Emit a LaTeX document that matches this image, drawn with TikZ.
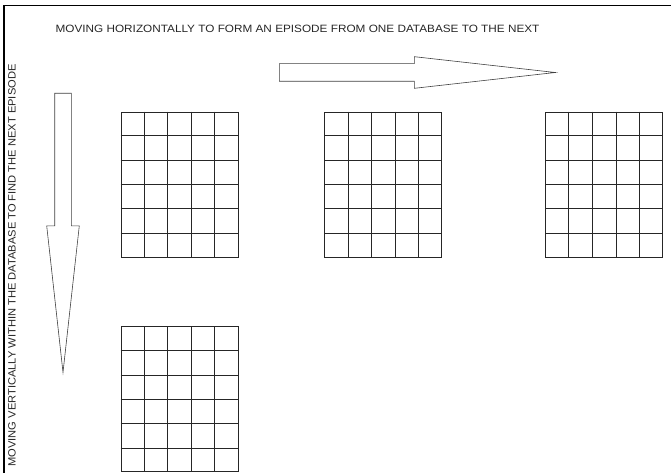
\documentclass[tikz,border=0pt]{standalone}
\usepackage{fontspec}
\setmainfont{Liberation Sans}
\usepackage{tikz}
\usetikzlibrary{shapes.arrows, positioning, calc}

\begin{document}
\begin{tikzpicture}[x=1pt, y=-1pt,
    db/.style={rectangle, draw=black!85, line width=0.9pt, minimum width=117pt,
               minimum height=145pt, inner sep=0pt},
    cell/.style={draw=black!85, line width=0.9pt},
    bigarrow/.style={single arrow, draw=black!75, line width=0.6pt, fill=white,
                     single arrow head indent=0pt},
    lbl/.style={font=\fontsize{10.6}{12}\selectfont, inner sep=0pt, text=black!85}]
  \useasboundingbox (0,0) rectangle (671,473);
  \draw[line width=1.5pt] (4,473) -- (4,5.5) -- (671,5.5);

  \node[lbl] (title) at (297.5,28.5) {\scalebox{1.11}[1]{MOVING HORIZONTALLY TO FORM AN EPISODE FROM ONE DATABASE TO THE NEXT}};
  \node[lbl, rotate=90] (side) at (12,265.5) {\scalebox{1.05}[1]{MOVING VERTICALLY WITHIN THE DATABASE TO FIND THE NEXT EPISODE}};

  \node[bigarrow, inner xsep=0pt, inner ysep=8.5pt, single arrow head extend=7pt,
        single arrow tip angle=12.8, minimum height=276pt, anchor=tail] (horiz) at (279,72.5) {};
  \node[bigarrow, inner ysep=0pt, inner xsep=8pt, single arrow head extend=8pt,
        single arrow tip angle=12.7, minimum height=279pt, shape border rotate=270,
        anchor=tail] (vert) at (63,93) {};

  \node[db] (db1) at (179.5,184.5) {};
  \node[db, right=86pt of db1] (db2) {};
  \node[db, right=103pt of db2] (db3) {};
  \node[db, below=69pt of db1] (db4) {};

  \foreach \d in {db1,db2,db3,db4} {
    \foreach \i in {1,...,4}
      \draw[cell] ($(\d.north west)!\i/5!(\d.north east)$) -- ($(\d.south west)!\i/5!(\d.south east)$);
    \foreach \j in {1,...,5}
      \draw[cell] ($(\d.north west)!\j/6!(\d.south west)$) -- ($(\d.north east)!\j/6!(\d.south east)$);
  }
\end{tikzpicture}
\end{document}
